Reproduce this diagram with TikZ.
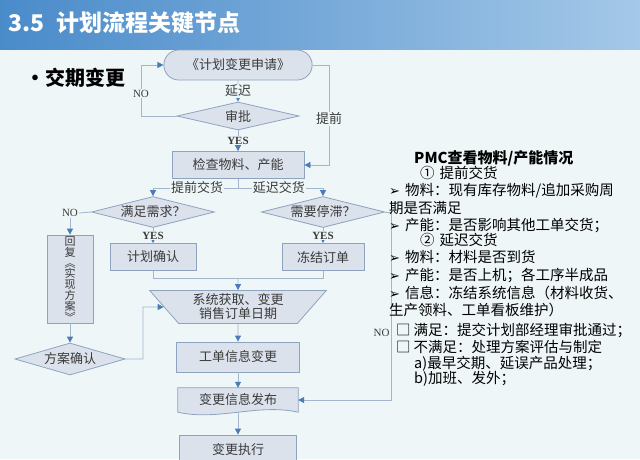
\documentclass[tikz,border=0pt]{standalone}
\usepackage{fontspec}
\setmainfont{Liberation Serif}
\newfontfamily\cjk{Noto Sans CJK SC}
\newfontfamily\symfont{DejaVu Sans}
\usetikzlibrary{shapes.geometric,shapes.misc,arrows.meta}

\definecolor{bgcol}{HTML}{EEF6F8}
\definecolor{shapefill}{HTML}{DCE2EC}
\definecolor{shapeline}{HTML}{8EA3BF}
\definecolor{linecol}{HTML}{A3B6CC}
\definecolor{tipcol}{HTML}{4A7DB8}
\definecolor{barleft}{HTML}{4A8BCA}
\definecolor{barright}{HTML}{A4C8E8}
\definecolor{txtgray}{HTML}{3A3A3A}

\newcommand\tipmark{{\symfont\fontsize{13}{14}\selectfont ➢}\hspace{5pt}}

\begin{document}
\begin{tikzpicture}[
    x=1pt, y=-1pt,
    every node/.style={font=\cjk\fontsize{13}{15}\selectfont, text=txtgray},
    proc/.style={
        draw=shapeline,
        fill=shapefill,
        line width=0.8pt,
        minimum height=27pt,
        inner sep=2pt
    },
    dec/.style={
        diamond,
        draw=shapeline,
        fill=shapefill,
        line width=0.8pt,
        inner sep=1pt,
        aspect=4
    },
    conn/.style={draw=linecol, line width=0.8pt},
    arr/.style={conn, -{Triangle[length=6pt,width=6pt,color=tipcol]}},
    lbl/.style={fill=bgcol, inner sep=1pt},
    yn/.style={lbl, font=\fontsize{11}{13}\selectfont},
    note/.style={anchor=base west, inner sep=0pt, text=black,
        font=\cjk\fontsize{14.5}{16}\selectfont}
]

    % background and title bar
    \fill[bgcol] (0,0) rectangle (640,459);
    \useasboundingbox (0,0) rectangle (640,459);
    \shade[left color=barleft, right color=barright] (0,0) rectangle (640,49);
    \node[anchor=west, text=white, font=\cjk\bfseries\fontsize{23}{26}\selectfont]
        (title) at (5,23) {3.5\enspace 计划流程关键节点};
    \node[anchor=west, text=black, font=\cjk\bfseries\fontsize{20}{22}\selectfont]
        (topic) at (22,78) {•交期变更};

    % request and approval
    \node[rounded rectangle, draw=shapeline, fill=shapefill, line width=0.8pt,
        minimum width=155pt, minimum height=30pt] (req) at (238,65) {《计划变更申请》};
    \node[dec, minimum width=122pt, minimum height=28pt] (appr) at (238,116) {审批};
    \node[proc, minimum width=132pt] (check) at (238,165) {检查物料、产能};

    \draw[arr] (req) -- node[lbl] {延迟} (appr);
    \draw[arr] (appr) -- node[yn, font=\bfseries\fontsize{11}{13}\selectfont] {YES} (check);

    \coordinate (loopL) at (141,65);
    \draw[arr] (appr.west) -| node[pos=0.72, yn] {NO} (loopL) -- (req.west);
    \coordinate (loopR) at (329,65);
    \draw[arr] (req.east) -- (loopR) |- node[pos=0.27, lbl] {提前} (check.east);

    % two branches
    \node[dec, minimum width=120pt, minimum height=31pt] (meet) at (153,212) {满足需求？};
    \node[dec, minimum width=117pt, minimum height=31pt] (halt) at (323,212) {需要停滞？};
    \node[proc, minimum width=86pt] (plan) at (153,257) {计划确认};
    \node[proc, minimum width=82pt] (freeze) at (323,257) {冻结订单};

    \coordinate (split) at (238,188);
    \draw[conn] (check.south) -- (split);
    \draw[arr] (split) -| node[pos=0.24, lbl] {提前交货} (meet.north);
    \draw[arr] (split) -| node[pos=0.24, lbl] {延迟交货} (halt.north);
    \draw[arr] (meet.south) -- node[yn, font=\bfseries\fontsize{11}{13}\selectfont] {YES} (plan.north);
    \draw[arr] (halt.south) -- node[yn, font=\bfseries\fontsize{11}{13}\selectfont] {YES} (freeze.north);

    % reply path
    \node[yn] (noleft) at (70,213) {NO};
    \node[proc, minimum width=46pt, minimum height=88pt, align=center,
        inner sep=1pt, font=\cjk\fontsize{11}{10.9}\selectfont]
        (reply) at (70,279) {回\\复\\︽\\实\\现\\方\\案\\︾};
    \node[dec, minimum width=96pt, minimum height=32pt] (confirm) at (70,359) {方案确认};
    \draw[conn] (meet.west) -- (noleft.east);
    \draw[arr] (noleft.south) -- (reply.north);
    \draw[arr] (reply.south) -- (confirm.north);

    % main column
    \node[trapezium, trapezium stretches=true, shape border rotate=180,
        trapezium angle=51, draw=shapeline, fill=shapefill, line width=0.8pt,
        minimum width=177pt, minimum height=33pt, inner sep=1pt, align=center,
        font=\cjk\fontsize{13}{14}\selectfont]
        (sys) at (238,307) {系统获取、变更\\销售订单日期};
    \node[proc, minimum width=123pt, minimum height=30pt] (wo) at (238,357) {工单信息变更};
    \node[minimum width=120pt, minimum height=24pt, inner sep=0pt] (pub) at (238,400) {};
    \filldraw[draw=shapeline, fill=shapefill, line width=0.8pt]
        (pub.north west) -- (pub.north east) -- (pub.south east)
        .. controls +(-40pt,9pt) and +(40pt,-9pt) .. (pub.south west) -- cycle;
    \node (pubtxt) at (pub) {变更信息发布};
    \node[proc, minimum width=117pt, minimum height=30pt] (exec) at (238,450) {变更执行};

    \coordinate (join) at (238,278);
    \draw[conn] (plan.south) |- (join);
    \draw[conn] (freeze.south) |- (join);
    \draw[arr] (join) -- (sys.north);
    \coordinate (loopC) at (143,307);
    \draw[arr] (confirm.east) -| (loopC) -- (sys.west);
    \draw[arr] (sys.south) -- (wo.north);
    \draw[arr] (wo.south) -- (pub.north);
    \draw[arr] (pub.south) -- (exec.north);
    \coordinate (loopN) at (391,212);
    \draw[arr] (halt.east) -- (loopN) |- node[pos=0.322, yn, anchor=east] {NO} (pub.east);

    % PMC notes
    \node[note, font=\cjk\bfseries\fontsize{15}{17}\selectfont] (n1) at (414,163) {PMC查看物料/产能情况};
    \node[note] (n2) at (420,178) {①\hspace{5pt}提前交货};
    \node[note] (n3) at (389,195) {\tipmark 物料：现有库存物料/追加采购周};
    \node[note] (n4) at (389,213) {期是否满足};
    \node[note] (n5) at (389,230) {\tipmark 产能：是否影响其他工单交货；};
    \node[note] (n6) at (420,245) {②\hspace{5pt}延迟交货};
    \node[note] (n7) at (389,262) {\tipmark 物料：材料是否到货};
    \node[note] (n8) at (389,280) {\tipmark 产能：是否上机；各工序半成品};
    \node[note] (n9) at (389,298) {\tipmark 信息：冻结系统信息（材料收货、};
    \node[note] (n10) at (389,315) {生产领料、工单看板维护）};
    \node[note] (n11) at (396,335) {□\hspace{3pt}满足：提交计划部经理审批通过；};
    \node[note] (n12) at (396,352) {□\hspace{3pt}不满足：处理方案评估与制定};
    \node[note] (n13) at (414,368) {a)最早交期、延误产品处理；};
    \node[note] (n14) at (414,383) {b)加班、发外；};

\end{tikzpicture}
\end{document}
